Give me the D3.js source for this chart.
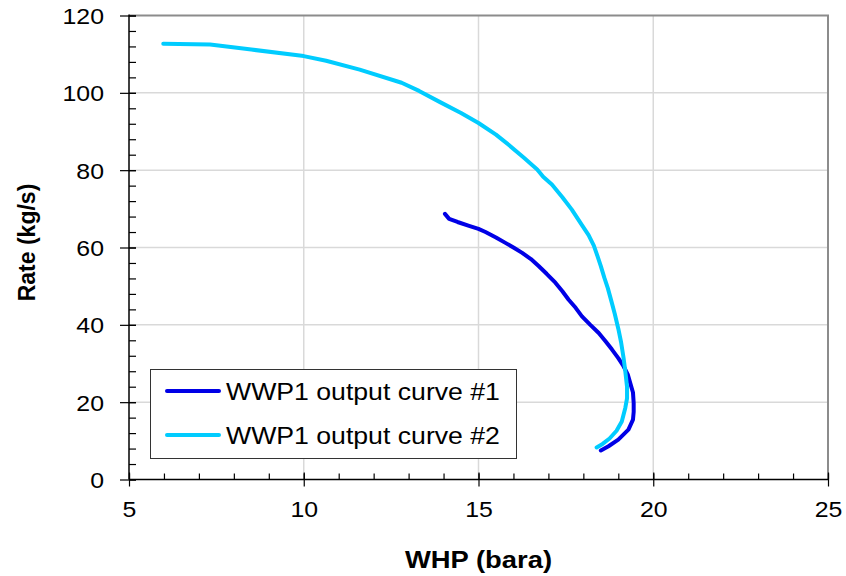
<!DOCTYPE html>
<html><head><meta charset="utf-8">
<script src="https://cdn.jsdelivr.net/npm/d3@7"></script>
<style>html,body{margin:0;padding:0;background:#fff;}svg{display:block;font-family:"Liberation Sans",Arial,sans-serif;}</style>
</head><body><svg id="c" width="846" height="576"></svg>
<script>
const xTicks = [5, 10, 15, 20, 25];
const yTicks = [0, 20, 40, 60, 80, 100, 120];
const xTitle = "WHP (bara)";
const yTitle = "Rate (kg/s)";
const seriesNames = ["WWP1 output curve #1", "WWP1 output curve #2"];
const seriesColors = ["#0000e6", "#00ccff"];
const curve1 = [[14.04,68.7],[14.16,67.4],[14.4,66.6],[14.73,65.6],[15.0,64.8],[15.2,64.0],[15.5,62.6],[15.77,61.2],[16.0,60.0],[16.25,58.6],[16.5,57.0],[16.72,55.2],[16.95,53.2],[17.2,50.9],[17.4,48.7],[17.58,46.5],[17.78,44.4],[17.96,42.2],[18.2,40.0],[18.44,37.9],[18.64,35.7],[18.82,33.6],[19.0,31.4],[19.15,29.3],[19.27,27.2],[19.34,25.0],[19.42,22.5],[19.44,19.8],[19.44,17.5],[19.42,15.5],[19.29,12.9],[19.0,10.3],[18.72,8.6],[18.5,7.5]];
const curve2 = [[5.98,112.7],[7.32,112.5],[8.5,111.2],[10.0,109.5],[10.64,108.3],[11.6,106.0],[12.8,102.6],[13.3,100.5],[13.9,97.6],[14.5,94.8],[15.0,92.2],[15.5,89.2],[15.87,86.5],[16.3,83.2],[16.68,80.2],[16.85,78.3],[17.1,76.3],[17.4,73.0],[17.67,69.8],[17.96,65.8],[18.15,63.2],[18.3,60.5],[18.4,57.9],[18.5,55.2],[18.6,52.2],[18.7,49.5],[18.8,46.2],[18.9,42.8],[19.0,39.0],[19.08,35.5],[19.15,31.5],[19.2,28.0],[19.25,24.0],[19.25,21.0],[19.2,18.5],[19.1,15.0],[18.95,12.6],[18.75,10.6],[18.55,9.2],[18.38,8.3]];
const series = [curve1, curve2];

const svg = d3.select("#c");
const L = 129, R = 828, T = 15.5, B = 479.5;
const x = d3.scaleLinear().domain([5, 25]).range([L, R]);
const y = d3.scaleLinear().domain([0, 120]).range([B, T]);

function stretch(sel, f) {
  sel.each(function () {
    const w = this.getComputedTextLength();
    d3.select(this).attr("textLength", w * f).attr("lengthAdjust", "spacingAndGlyphs");
  });
}

// grid
svg.append("g").selectAll("line").data(xTicks.slice(1, -1)).join("line")
  .attr("x1", d => x(d)).attr("x2", d => x(d)).attr("y1", T).attr("y2", B)
  .attr("stroke", "#d9d9d9").attr("stroke-width", 1.5);
svg.append("g").selectAll("line").data(yTicks.slice(1, -1)).join("line")
  .attr("y1", d => y(d)).attr("y2", d => y(d)).attr("x1", L).attr("x2", R)
  .attr("stroke", "#d9d9d9").attr("stroke-width", 1.5);

// frame top/right
svg.append("path").attr("d", `M${L},${T}H${R}V${B}`).attr("fill", "none")
  .attr("stroke", "#8c8c8c").attr("stroke-width", 2);

// curves
const line = d3.line().x(d => x(d[0])).y(d => y(d[1]));
svg.append("g").selectAll("path").data(series).join("path")
  .attr("d", line).attr("fill", "none")
  .attr("stroke", (d, i) => seriesColors[i]).attr("stroke-width", 4)
  .attr("stroke-linejoin", "round").attr("stroke-linecap", "round");

// axes
const xMinor = d3.range(5, 25.001, 1);
const yMinor = d3.range(0, 120.001, 4);
function styleAxis(g) {
  g.selectAll("path.domain").remove();
  g.selectAll(".tick line").attr("stroke", "#000").attr("stroke-width", 1.2);
}
svg.append("g").attr("transform", `translate(0,${B})`)
  .call(d3.axisBottom(x).tickValues(xMinor).tickSize(-6).tickFormat(""))
  .call(styleAxis);
svg.append("g").attr("transform", `translate(0,${B})`)
  .call(d3.axisBottom(x).tickValues(xTicks).tickSize(7).tickFormat(""))
  .call(styleAxis);
const xa = svg.append("g").attr("transform", `translate(0,${B})`)
  .call(d3.axisBottom(x).tickValues(xTicks).tickSize(-7).tickPadding(37))
  .call(styleAxis);
xa.selectAll("text").attr("font-size", 22).attr("fill", "#000").attr("dy", 0)
  .attr("font-family", "'Liberation Sans', Arial, sans-serif").call(stretch, 1.13);

svg.append("g").attr("transform", `translate(${L},0)`)
  .call(d3.axisLeft(y).tickValues(yMinor).tickSize(-7).tickFormat(""))
  .call(styleAxis);
svg.append("g").attr("transform", `translate(${L},0)`)
  .call(d3.axisLeft(y).tickValues(yTicks).tickSize(-7).tickFormat(""))
  .call(styleAxis);
const ya = svg.append("g").attr("transform", `translate(${L},0)`)
  .call(d3.axisLeft(y).tickValues(yTicks).tickSize(9).tickPadding(16))
  .call(styleAxis);
ya.selectAll("text").attr("font-size", 22).attr("fill", "#000").attr("dy", "0.36em")
  .attr("font-family", "'Liberation Sans', Arial, sans-serif").call(stretch, 1.13);

svg.append("line").attr("x1", L).attr("x2", R + 1).attr("y1", B).attr("y2", B)
  .attr("stroke", "#000").attr("stroke-width", 1.5);
svg.append("line").attr("x1", L).attr("x2", L).attr("y1", T - 1).attr("y2", B)
  .attr("stroke", "#000").attr("stroke-width", 1.5);

// titles
svg.append("text").attr("x", (L + R) / 2).attr("y", 568).attr("text-anchor", "middle")
  .attr("font-size", 23).attr("font-weight", "bold").text(xTitle).call(stretch, 1.19);
svg.append("text").attr("transform", `translate(35,${(T + B) / 2 - 5}) rotate(-90)`)
  .attr("text-anchor", "middle").attr("font-size", 23).attr("font-weight", "bold").text(yTitle);

// legend
const lg = svg.append("g");
lg.append("rect").attr("x", 150.5).attr("y", 369.5).attr("width", 366).attr("height", 89)
  .attr("fill", "#fff").attr("stroke", "#333").attr("stroke-width", 1);
const rows = lg.selectAll("g.row").data(seriesNames).join("g").attr("class", "row")
  .attr("transform", (d, i) => `translate(0,${391 + i * 44})`);
rows.append("line").attr("x1", 167).attr("x2", 219).attr("y1", 0).attr("y2", 0)
  .attr("stroke", (d, i) => seriesColors[i]).attr("stroke-width", 4).attr("stroke-linecap", "round");
rows.append("text").attr("x", 226).attr("y", 9).attr("font-size", 24).attr("fill", "#000")
  .text(d => d).call(stretch, 1.11);
</script></body></html>
